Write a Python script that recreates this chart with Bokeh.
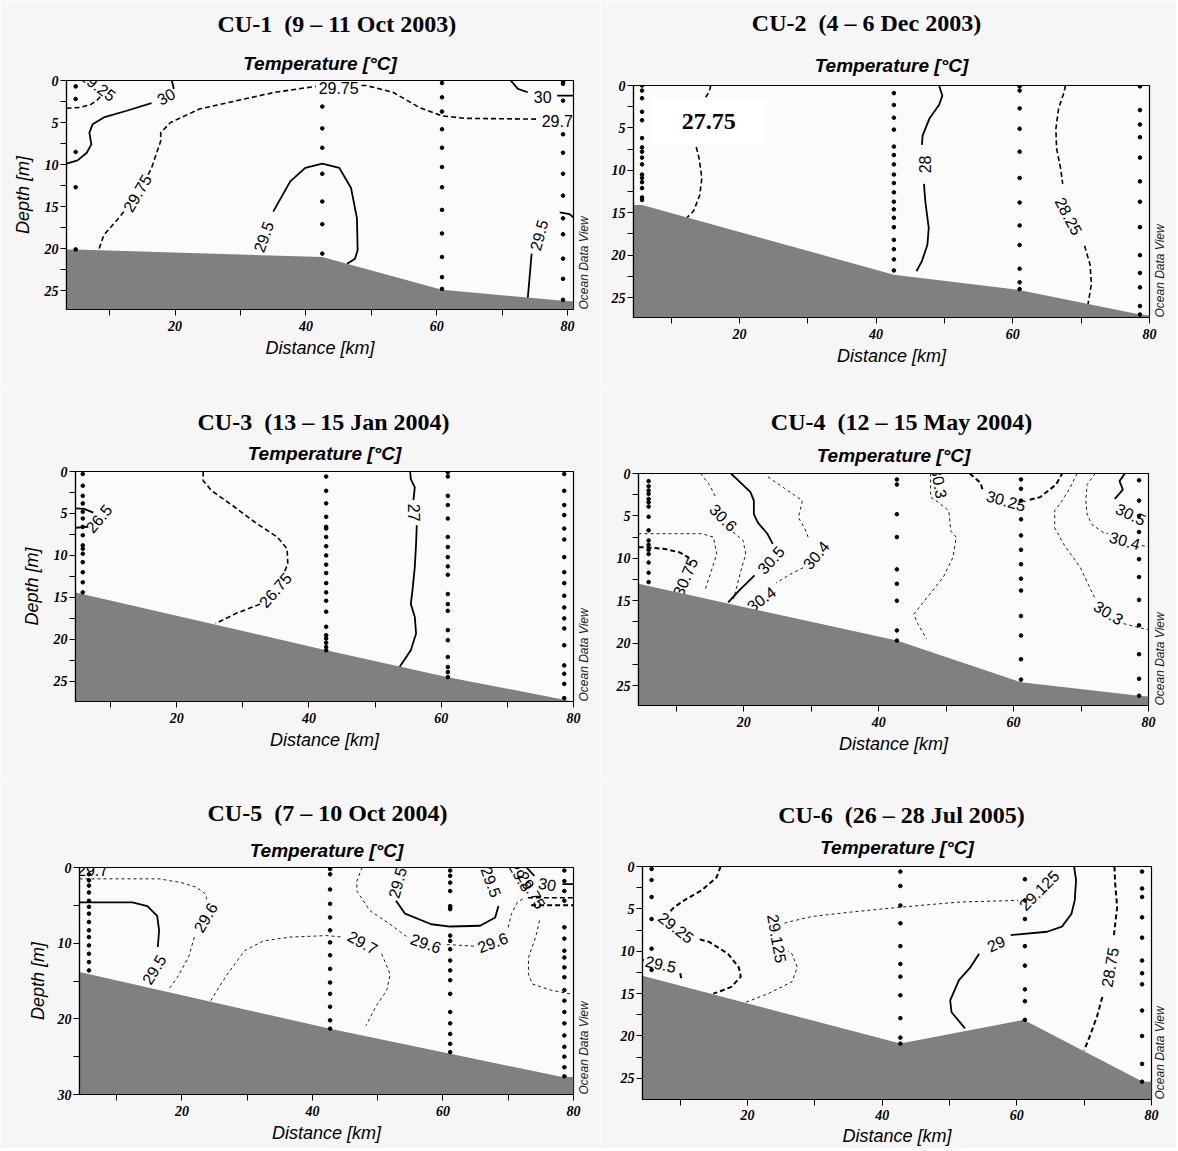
import math
from bokeh.plotting import figure
from bokeh.layouts import column, row
from bokeh.models import Range1d, FixedTicker, Title, LinearAxis, CustomJSTickFormatter
from bokeh.core.properties import value
from bokeh.embed import file_html
from bokeh.resources import INLINE

N = None  # break inside a contour polyline

# ======================= CU-1 =======================
CU1_title = "CU-1\u00a0 (9 – 11 Oct 2003)"
CU1_xlim = (3.4, 80.9)
CU1_ymax = 27.25
CU1_bottom_km = [3.4, 4.8, 42.5, 60.8, 79.3, 80.9]
CU1_bottom_depth = [20.1, 20.1, 21.0, 24.9, 26.2, 26.3]
CU1_station_km = [4.8, 42.5, 60.8, 79.3]
CU1_sample_depth = [
    [0.7, 2.2, 8.5, 12.7, 20.1],
    [3.1, 5.7, 8.0, 11.1, 14.4, 17.1, 20.6],
    [0.3, 2.0, 3.7, 5.8, 8.0, 10.3, 12.7, 15.4, 18.2, 21.0, 23.4, 24.8],
    [0.1, 0.4, 2.4, 6.4, 8.6, 11.1, 13.7, 16.4, 18.3, 21.2, 23.6, 26.1],
]
CU1_lines = [
    ("dash", [3.4, 5.5, 7.0, 8.0, 8.6], [3.3, 3.2, 2.9, 2.4, 1.9]),
    ("solid", [3.4, 5.1, 6.5, 7.2, 6.9, 7.4, 9.1, 12.6, 16.4, N, 19.8, 19.5],
              [9.9, 9.5, 8.6, 7.6, 6.2, 5.2, 4.4, 3.6, 2.7, N, 1.0, 0.0]),
    ("dash", [8.4, 9.1, 10.9, 12.3, N, 15.9, 16.4, 17.8, 17.8, 19.3, 23.7, 30.6, 35.3, 41.5, N,
              48.5, 49.2, 53.3, 57.3, 60.8, 64.3, 75.5],
             [20.0, 18.4, 16.8, 15.5, N, 11.2, 10.4, 7.2, 6.2, 5.0, 3.4, 2.2, 1.4, 0.7, N,
              0.6, 0.6, 1.4, 3.2, 4.2, 4.5, 4.6]),
    ("solid", [35.0, 37.6, 39.9, 42.5, 45.1, 46.9, 47.8, 47.9, 47.5, 46.3],
              [15.6, 12.0, 10.4, 9.9, 10.4, 12.8, 16.4, 20.2, 21.2, 21.8]),
    ("solid", [71.3, 72.4, 73.9, N, 78.4, 80.9], [0.0, 1.0, 1.4, N, 1.8, 1.8]),
    ("solid", [73.9, 74.5, N, 78.8, 80.3, 80.9], [26.0, 20.6, N, 15.7, 15.9, 16.3]),
]
CU1_labels = [
    ("29.25", 8.2, 0.6, -37), ("30", 18.6, 1.9, 30), ("29.75", 14.2, 13.4, 60),
    ("29.75", 45.0, 0.9, 0), ("29.75", 79.1, 4.8, 0), ("29.5", 33.5, 18.6, 70),
    ("30", 76.2, 2.0, 0), ("29.5", 75.6, 18.4, 75),
]

# ======================= CU-2 =======================
CU2_title = "CU-2\u00a0 (4 – 6 Dec 2003)"
CU2_xlim = (4.5, 80.0)
CU2_ymax = 27.35
CU2_bottom_km = [4.5, 5.75, 42.6, 60.9, 78.6, 80.0]
CU2_bottom_depth = [14.1, 14.1, 22.3, 24.1, 27.0, 27.1]
CU2_station_km = [5.75, 42.6, 61.0, 78.6]
CU2_sample_depth = [
    [0.0, 0.6, 1.5, 3.1, 4.1, 6.2, 7.3, 7.8, 8.5, 9.3, 10.5, 10.9, 11.4, 12.1, 13.2, 13.5],
    [0.9, 2.3, 3.8, 5.2, 7.2, 8.2, 9.3, 10.5, 11.5, 12.6, 13.7, 14.6, 15.6, 16.7, 18.2, 19.3, 20.5, 21.8],
    [0.1, 0.6, 2.7, 5.1, 7.8, 10.9, 13.8, 16.5, 18.8, 21.6, 23.2, 24.0],
    [0.1, 2.9, 4.6, 6.1, 8.5, 11.3, 13.7, 16.7, 20.0, 22.1, 23.8, 26.0, 27.0],
]
CU2_lines = [
    ("dash", [15.8, 15.6, 14.9, 14.5, 13.6, 14.1, 14.5, 14.2, 13.3, 12.3],
             [0.0, 0.7, 1.6, 3.0, 7.0, 8.6, 10.9, 12.9, 14.8, 15.6]),
    ("solid", [49.2, 49.7, 49.2, 47.8, 46.8, 46.7, N, 47.0, 47.2, 47.7, 47.5, 46.7, 45.9],
              [0.0, 1.2, 2.3, 3.9, 5.9, 7.0, N, 11.6, 13.7, 16.8, 18.8, 20.7, 21.9]),
    ("dash", [67.7, 67.5, 66.7, 66.3, 66.4, 67.0, 67.3, N, 70.5, 71.3, 71.5, 71.0],
             [0.0, 0.8, 2.7, 5.1, 7.4, 9.8, 11.6, N, 18.9, 21.1, 23.4, 25.8]),
]
CU2_labels = [("28", 47.1, 9.3, 90), ("28.25", 68.2, 15.4, -62)]
CU2_box_km = [7.2, 23.8]
CU2_box_depth = [1.6, 7.0]
CU2_box_text = "27.75"

# ======================= CU-3 =======================
CU3_title = "CU-3\u00a0 (13 – 15 Jan 2004)"
CU3_xlim = (4.7, 80.0)
CU3_ymax = 27.4
CU3_bottom_km = [4.7, 42.6, 61.0, 78.6, 80.0]
CU3_bottom_depth = [14.4, 21.3, 24.5, 27.2, 27.4]
CU3_station_km = [5.8, 42.6, 61.0, 78.6]
CU3_sample_depth = [
    [0.3, 1.7, 2.9, 3.8, 4.8, 5.6, 6.6, 7.6, 8.8, 9.2, 9.8, 10.8, 12.0, 13.2, 14.4],
    [0.6, 2.3, 3.8, 5.4, 6.6, 6.8, 7.8, 8.9, 10.0, 11.1, 12.1, 13.3, 14.4, 15.4, 16.7, 18.5,
     19.5, 19.9, 20.4, 20.9, 21.3],
    [0.1, 0.6, 2.9, 4.0, 5.6, 7.8, 9.0, 10.2, 11.3, 12.3, 14.6, 15.8, 16.6, 18.9, 20.1, 22.1,
     23.3, 23.9, 24.5],
    [0.3, 2.3, 4.0, 5.2, 6.8, 8.1, 10.2, 12.0, 13.3, 14.8, 16.2, 17.5, 18.7, 20.7, 23.1, 24.1,
     25.3, 27.0],
]
CU3_lines = [
    ("solid", [4.7, 6.0, 7.4, N, 6.5, 4.7], [4.4, 4.45, 4.9, N, 6.6, 6.7]),
    ("dash", [24.0, 24.0, 25.3, 28.7, 32.1, 35.2, 36.7, 36.8, 36.2, N, 32.6, 29.0, 25.9],
             [0.0, 1.1, 2.3, 4.2, 6.2, 7.8, 9.2, 11.0, 12.1, N, 15.8, 16.9, 18.1]),
    ("solid", [55.3, 55.4, 56.0, 55.8, N, 56.3, 56.2, 56.0, 55.7, 55.4, 56.0, 56.2, 55.4, 53.7],
              [0.0, 0.9, 1.9, 3.4, N, 6.4, 8.6, 11.4, 13.8, 15.8, 17.3, 19.3, 21.3, 23.3]),
]
CU3_labels = [("26.5", 8.2, 5.6, 50), ("26.75", 34.9, 14.1, 49), ("27", 55.9, 4.9, -90)]

# ======================= CU-4 =======================
CU4_title = "CU-4\u00a0 (12 – 15 May 2004)"
CU4_xlim = (4.4, 80.0)
CU4_ymax = 27.35
CU4_bottom_km = [4.4, 42.7, 61.1, 78.6, 80.0]
CU4_bottom_depth = [13.0, 19.7, 24.6, 26.2, 26.3]
CU4_station_km = [5.9, 42.7, 61.1, 78.6]
CU4_sample_depth = [
    [0.9, 1.5, 2.0, 2.4, 3.0, 3.4, 3.9, 5.1, 6.7, 7.9, 8.4, 9.0, 9.5, 10.5, 11.7, 12.8],
    [0.7, 1.3, 4.8, 7.5, 11.3, 13.0, 15.0, 18.5, 19.7],
    [0.7, 1.8, 3.2, 5.4, 7.3, 9.0, 10.7, 12.4, 13.8, 16.8, 19.1, 21.9, 24.3],
    [0.8, 3.2, 5.0, 6.9, 10.1, 12.2, 14.9, 17.9, 21.3, 24.2, 26.2],
]
CU4_lines = [
    ("bdash", [4.4, 5.6, 8.3, 10.5, 11.8, 12.1], [8.7, 8.7, 8.9, 9.3, 9.9, 10.6]),
    ("thin", [4.4, 13.8, 15.5, 16.0, 14.9, 14.2], [7.1, 7.1, 7.5, 9.5, 12.2, 13.9]),
    ("thin", [13.6, 14.9, 15.9, N, 18.4, 19.9, 20.3, 19.6, 18.5], [0.0, 1.3, 2.9, N, 6.9, 7.9, 9.5, 11.4, 14.8]),
    ("solid", [18.1, 19.3, 21.0, 21.5, 21.5, 22.1, 23.5, 24.3, N, 21.6, 19.3, 17.7],
              [0.0, 0.9, 2.2, 3.2, 4.8, 5.8, 7.1, 8.3, N, 12.0, 13.8, 15.2]),
    ("thin", [23.6, 26.5, 28.7, 28.1, 29.0, 29.6, N, 28.8, 27.3, 24.8],
             [0.4, 2.0, 3.2, 5.2, 6.4, 7.6, N, 11.1, 11.7, 12.9]),
    ("thin", [47.7, 47.7, 48.5, 50.4, 50.7, 51.5, 51.0, 49.6, 46.8, 45.2, 45.8, 47.1],
             [0.0, 2.8, 3.2, 4.4, 6.8, 7.5, 9.9, 12.2, 15.0, 16.6, 17.7, 19.5]),
    ("bdash", [53.5, 55.1, 55.4, N, 62.4, 63.9, 66.3, 67.2], [0.0, 1.1, 1.9, N, 3.1, 2.8, 1.3, 0.0]),
    ("thin", [69.4, 68.3, 67.2, 66.1, 66.1, 67.4, 69.9, 71.5, 72.0, N, 76.3, 79.3, 80.0],
             [0.0, 1.8, 3.2, 4.4, 6.4, 8.3, 11.1, 13.8, 14.6, N, 17.7, 18.3, 18.4]),
    ("thin", [72.1, 70.9, 70.7, 70.9, 71.6, 73.2, 74.0, N, 79.0, 80.0],
             [0.0, 1.3, 3.2, 4.8, 6.0, 6.9, 7.1, N, 8.5, 8.6]),
    ("solid", [76.5, 75.7, 76.2, 75.0], [0.0, 0.9, 1.9, 3.0]),
]
CU4_labels = [
    ("30.75", 11.3, 12.2, 67), ("30.6", 17.0, 5.2, -45), ("30.5", 24.0, 10.2, 48),
    ("30.4", 30.7, 9.6, 50), ("30.4", 22.6, 14.8, 36), ("30.3", 49.0, 1.1, -80),
    ("30.25", 58.9, 3.2, -16), ("30.3", 74.1, 16.4, -32), ("30.4", 76.5, 7.9, -15),
    ("30.5", 77.4, 4.8, -26),
]

# ======================= CU-5 =======================
CU5_title = "CU-5\u00a0 (7 – 10 Oct 2004)"
CU5_xlim = (4.3, 80.0)
CU5_ymax = 30.0
CU5_bottom_km = [4.3, 42.7, 61.1, 78.3, 80.0]
CU5_bottom_depth = [13.8, 21.3, 24.6, 27.7, 27.7]
CU5_station_km = [5.75, 42.7, 61.1, 78.6]
CU5_sample_depth = [
    [0.9, 1.7, 2.4, 3.3, 4.4, 5.2, 6.1, 7.2, 8.3, 9.2, 10.3, 11.4, 12.5, 13.6],
    [0.2, 0.9, 2.9, 4.8, 6.6, 8.3, 9.9, 11.6, 13.4, 15.2, 16.7, 18.4, 20.2, 21.3],
    [0.4, 1.1, 2.0, 3.1, 5.1, 5.3, 5.5, 9.0, 9.7, 10.8, 12.3, 13.6, 14.9, 16.7, 19.1, 20.6,
     22.0, 23.3, 24.4],
    [0.4, 1.8, 3.1, 4.4, 7.9, 9.4, 11.0, 11.9, 13.2, 14.5, 16.2, 17.6, 19.1, 20.6, 22.2, 23.7,
     25.0, 26.4, 27.6],
]
CU5_lines = [
    ("thin", [4.3, 9.6, 16.5, 19.9, 22.2, 23.6, 23.8, N, 21.9, 21.0, 19.3, 17.9],
             [1.5, 1.5, 1.5, 2.0, 2.6, 3.5, 4.2, N, 9.2, 11.9, 14.5, 16.2]),
    ("solid", [4.3, 12.4, 14.7, 16.2, 16.5, 16.3], [4.6, 4.6, 5.1, 6.4, 8.3, 10.5]),
    ("thin", [24.4, 26.8, 29.6, 32.5, 36.5, 42.2, 44.6, N, 50.6, 51.9, 51.4, 49.7, 48.2],
             [17.6, 14.3, 11.0, 9.7, 9.2, 9.0, 9.2, N, 11.4, 14.1, 16.2, 18.4, 20.9]),
    ("thin", [47.6, 46.8, 46.8, 48.8, 51.9, 53.9, 54.4, N, 60.6, 61.1, 64.8, N, 70.0, 70.5, 71.4, 72.5],
             [0.0, 1.8, 3.1, 5.7, 7.5, 8.8, 9.1, N, 10.2, 10.2, 10.4, N, 7.9, 6.1, 4.6, 4.0]),
    ("thin", [74.8, 74.2, 73.1, 73.1, 73.7, 76.5, 80.0], [7.0, 9.2, 11.9, 14.1, 15.4, 16.2, 16.8]),
    ("solid", [52.8, 54.2, 58.2, 61.1, 65.7, 68.0, 68.5], [4.4, 6.1, 7.5, 7.8, 7.7, 6.6, 5.1]),
    ("solid", [72.8, 74.0, N, 78.3, 80.0], [0.0, 1.1, N, 2.2, 2.2]),
    ("dash", [73.0, 80.0], [4.0, 4.0]),
    ("bdash", [73.5, 80.0], [5.0, 5.0]),
]
CU5_labels = [
    ("29.7", 6.3, 0.3, 0), ("29.6", 23.6, 6.6, 60), ("29.5", 15.7, 13.5, 59),
    ("29.7", 47.7, 9.9, -29), ("29.6", 57.4, 10.0, -19), ("29.6", 67.6, 9.9, 21),
    ("29.5", 53.0, 2.0, 75), ("29.5", 67.4, 1.9, -70), ("29.8", 71.9, 1.2, -60),
    ("29.75", 73.6, 3.0, -60), ("30", 76.0, 2.2, -10),
]

# ======================= CU-6 =======================
CU6_title = "CU-6\u00a0 (26 – 28 Jul 2005)"
CU6_xlim = (4.4, 80.0)
CU6_ymax = 27.5
CU6_bottom_km = [4.4, 42.7, 61.0, 78.7, 80.0]
CU6_bottom_depth = [12.9, 20.9, 18.1, 25.4, 25.4]
CU6_station_km = [5.75, 42.7, 61.2, 78.6]
CU6_sample_depth = [
    [0.3, 1.6, 3.6, 6.2, 9.7, 12.2],
    [0.6, 2.3, 4.6, 6.7, 9.4, 11.5, 13.0, 15.2, 17.9, 20.2, 20.9],
    [1.5, 4.0, 6.2, 9.4, 11.7, 14.5, 15.9, 18.1],
    [0.6, 2.6, 3.6, 6.0, 8.4, 11.1, 12.6, 13.9, 17.0, 20.0, 23.3, 25.4],
]
CU6_lines = [
    ("bdash", [16.0, 15.4, 13.2, 11.0, 9.1, 8.3, N, 12.9, 14.3, 17.1, 18.7, 19.0, 17.6, 15.7, 14.9],
              [0.0, 1.3, 2.8, 3.8, 4.8, 5.5, N, 8.6, 8.9, 10.3, 11.9, 13.0, 14.2, 14.8, 15.0]),
    ("bdash", [4.4, 4.6, N, 10.0, 10.2], [11.0, 11.1, N, 12.6, 13.4]),
    ("thin", [19.8, 23.1, 26.6, 27.4, 26.6, 26.0, N, 25.5, 25.8, 29.6, 35.1, 42.7, 51.4, 60.2],
             [16.0, 15.0, 13.6, 11.9, 10.3, 10.0, N, 6.7, 6.6, 5.9, 5.4, 4.8, 4.2, 4.0]),
    ("solid", [68.5, 68.8, 68.6, 68.1, 66.7, 64.5, 59.1, N, 54.4, 53.1, 51.4, 50.1, 50.3, 52.3],
              [0.0, 1.6, 4.0, 5.6, 7.1, 7.7, 8.1, N, 10.3, 11.9, 13.4, 15.8, 17.2, 19.1]),
    ("bdash", [74.5, 74.6, 74.9, 74.6, 74.4, N, 72.7, 71.9, 70.8, 70.0],
              [0.0, 2.0, 4.8, 6.8, 8.3, N, 15.4, 17.7, 20.1, 21.7]),
]
CU6_labels = [
    ("29.25", 9.4, 7.2, -38), ("29.5", 7.1, 11.5, -12), ("29.125", 24.4, 8.5, -80),
    ("29.125", 63.3, 2.8, 45), ("29", 56.9, 9.1, 25), ("28.75", 73.8, 11.9, 80),
]

YTICKS_27 = ([0, 5, 10, 15, 20, 25], [2.5, 7.5, 12.5, 17.5, 22.5])
YTICKS_30 = ([0, 10, 20, 30], [5, 15, 25])
XTICKS = ([20, 40, 60, 80], [10, 30, 50, 70])

STYLES = {
    "solid": dict(line_width=1.8, line_dash="solid"),
    "dash": dict(line_width=1.6, line_dash="5 3"),
    "bdash": dict(line_width=2.0, line_dash="5 3"),
    "thin": dict(line_width=0.9, line_dash="3 3"),
}

SERIF = "Liberation Serif"
SANS = "Liberation Sans"

# approximate advance widths (em) of the bold serif face, for placing titles
_W = {" ": .25, "\u00a0": .25, "(": .333, ")": .333, "-": .333, "–": .5, "C": .722, "U": .722,
      "O": .778, "D": .722, "J": .5, "M": .944, "a": .5, "c": .444, "e": .444, "l": .278,
      "n": .556, "t": .333, "u": .556, "y": .5}

H_TEMP = 21.2   # measured title box heights (px)
H_HEAD = 23.6


def text_width(s, size):
    return sum(_W.get(ch, .5) for ch in s) * size


def nan(v):
    return [float("nan") if a is None else a for a in v]


def build(d):
    cx0, cy0, cx1, cy1 = d["canvas"]
    fl, ft, fr, fb = d["frame"]
    x0, x1 = d["xlim"]
    p = figure(width=cx1 - cx0, height=cy1 - cy0, title=None,
               x_range=Range1d(x0, x1), y_range=Range1d(d["ymax"], 0),
               min_border_left=fl - cx0, min_border_right=cx1 - fr,
               min_border_top=ft - cy0, min_border_bottom=cy1 - fb,
               output_backend="svg", toolbar_location=None)
    p.grid.visible = False
    p.background_fill_color = "#fbfbfb"
    p.border_fill_color = "#f6f6f6"
    p.outline_line_color = "black"
    p.outline_line_width = 1.2

    p.xaxis.ticker = FixedTicker(ticks=XTICKS[0], minor_ticks=XTICKS[1])
    p.yaxis.ticker = FixedTicker(ticks=d["yticks"][0], minor_ticks=d["yticks"][1])
    for ax in (p.xaxis[0], p.yaxis[0]):
        ax.major_tick_in = 0
        ax.major_tick_out = 6
        ax.minor_tick_in = 0
        ax.minor_tick_out = 6
        ax.axis_line_color = "black"
        ax.axis_line_width = 1.2
        ax.major_tick_line_color = "black"
        ax.minor_tick_line_color = "black"
        ax.major_label_text_font = SERIF
        ax.major_label_text_font_style = "bold italic"
        ax.major_label_text_font_size = "14px"
        ax.major_label_text_color = "black"
        ax.axis_label_text_font = SANS
        ax.axis_label_text_font_style = "italic"
        ax.axis_label_text_font_size = "18px"
        ax.axis_label_text_color = "black"
    p.xaxis.axis_label = "Distance [km]"
    p.xaxis.major_label_standoff = d.get("xstand", (5, 4))[0]
    p.xaxis.axis_label_standoff = d.get("xstand", (5, 4))[1]
    p.yaxis.major_label_standoff = 2
    if d["depth_label"]:
        p.yaxis.axis_label = "Depth [m]"
        p.yaxis.axis_label_standoff = d["ystand"]

    # "Ocean Data View" credit, written upward from the bottom right corner
    odv = LinearAxis(ticker=FixedTicker(ticks=[d["ymax"] - 1e-6]),
                     formatter=CustomJSTickFormatter(code="return 'Ocean Data View';"),
                     major_label_orientation=math.pi / 2,
                     major_tick_line_color=None, minor_tick_line_color=None,
                     axis_line_color=None, major_tick_in=0, major_tick_out=0,
                     major_label_standoff=d["odv_x"] - fr,
                     major_label_text_font=SANS, major_label_text_font_style="italic",
                     major_label_text_font_size="12px", major_label_text_color="#222222")
    p.add_layout(odv, "right")

    # titles (closest to the frame first)
    B = ft - cy0
    cT = d["temp_pos"][1]
    cC = d["title_pos"][1]
    s1 = max(0.0, 2 * (ft - 2 - H_TEMP / 2 - cT))
    T = 2 + H_TEMP + s1
    s2 = 2 * (ft - T - 2 - H_HEAD / 2 - cC)
    s2 = max(0.0, min(s2, B - 1 - T - 2 - H_HEAD))
    p.add_layout(Title(text="Temperature [°C]", align="center", vertical_align="top",
                       standoff=s1, text_font=SANS, text_font_style="bold italic",
                       text_font_size="19px", text_color="black"), "above")
    tw = text_width(d["title"], 24)
    p.add_layout(Title(text=d["title"], align="left", vertical_align="top",
                       offset=d["title_pos"][0] - tw / 2 - fl, standoff=s2,
                       text_font=SERIF, text_font_style="bold", text_font_size="24px",
                       text_color="black"), "above")

    # contour lines
    for style, xs, ys in d["lines"]:
        p.line(nan(xs), nan(ys), line_color="black", **STYLES[style])

    # optional white box with label
    if d.get("box") is not None:
        bx, by, btxt = d["box"]
        p.quad(left=[bx[0]], right=[bx[1]], top=[by[0]], bottom=[by[1]],
               fill_color="white", line_color=None)
        p.text(x=[(bx[0] + bx[1]) / 2], y=[(by[0] + by[1]) / 2], text=[btxt],
               text_align="center", text_baseline="middle",
               text_font=value(SERIF), text_font_style="bold", text_font_size="24px",
               text_color="black")

    # contour labels
    labs = d["labels"]
    p.text(x=[l[1] for l in labs], y=[l[2] for l in labs], text=[l[0] for l in labs],
           angle=[math.radians(l[3]) for l in labs],
           text_align="center", text_baseline="middle",
           text_font=value(SANS), text_font_size="16px", text_color="black")

    # bathymetry
    p.varea(x=d["bottom_km"], y1=d["bottom_depth"], y2=[d["ymax"] + 3] * len(d["bottom_km"]),
            fill_color="#808080")

    # station samples
    sx, sy = [], []
    for km, deps in zip(d["station_km"], d["samples"]):
        sx += [km] * len(deps)
        sy += deps
    p.scatter(sx, sy, size=3.6, color="black", marker="circle")
    return p


panels = [
    dict(title=CU1_title, xlim=CU1_xlim, ymax=CU1_ymax, yticks=YTICKS_27,
         bottom_km=CU1_bottom_km, bottom_depth=CU1_bottom_depth,
         station_km=CU1_station_km, samples=CU1_sample_depth,
         lines=CU1_lines, labels=CU1_labels,
         canvas=(0, 0, 600, 388), frame=(66, 79, 575, 309),
         title_pos=(337, 22), temp_pos=(318, 62), odv_x=585, depth_label=True, ystand=9),
    dict(title=CU2_title, xlim=CU2_xlim, ymax=CU2_ymax, yticks=YTICKS_27,
         bottom_km=CU2_bottom_km, bottom_depth=CU2_bottom_depth,
         station_km=CU2_station_km, samples=CU2_sample_depth,
         lines=CU2_lines, labels=CU2_labels, box=(CU2_box_km, CU2_box_depth, CU2_box_text),
         canvas=(600, 0, 1176, 388), frame=(633, 84, 1150, 317),
         title_pos=(866, 21), temp_pos=(892, 64), odv_x=1160, depth_label=False),
    dict(title=CU3_title, xlim=CU3_xlim, ymax=CU3_ymax, yticks=YTICKS_27,
         bottom_km=CU3_bottom_km, bottom_depth=CU3_bottom_depth,
         station_km=CU3_station_km, samples=CU3_sample_depth,
         lines=CU3_lines, labels=CU3_labels,
         canvas=(0, 388, 600, 780), frame=(75, 471, 582, 701),
         title_pos=(323, 422), temp_pos=(330, 453), odv_x=592, depth_label=True, ystand=9),
    dict(title=CU4_title, xlim=CU4_xlim, ymax=CU4_ymax, yticks=YTICKS_27,
         bottom_km=CU4_bottom_km, bottom_depth=CU4_bottom_depth,
         station_km=CU4_station_km, samples=CU4_sample_depth,
         lines=CU4_lines, labels=CU4_labels,
         canvas=(600, 388, 1176, 780), frame=(638, 473, 1154, 705),
         title_pos=(901, 422), temp_pos=(896, 455), odv_x=1165, depth_label=False),
    dict(title=CU5_title, xlim=CU5_xlim, ymax=CU5_ymax, yticks=YTICKS_30,
         bottom_km=CU5_bottom_km, bottom_depth=CU5_bottom_depth,
         station_km=CU5_station_km, samples=CU5_sample_depth,
         lines=CU5_lines, labels=CU5_labels,
         canvas=(0, 780, 600, 1148), frame=(79, 867, 585, 1094),
         title_pos=(327, 813), temp_pos=(333, 850), odv_x=595, depth_label=True, ystand=7),
    dict(title=CU6_title, xlim=CU6_xlim, ymax=CU6_ymax, yticks=YTICKS_27,
         bottom_km=CU6_bottom_km, bottom_depth=CU6_bottom_depth,
         station_km=CU6_station_km, samples=CU6_sample_depth,
         lines=CU6_lines, labels=CU6_labels,
         canvas=(600, 780, 1176, 1148), frame=(642, 866, 1161, 1099),
         title_pos=(901, 815), temp_pos=(901, 847), odv_x=1169, depth_label=False,
         xstand=(4, 3)),
]

figs = [build(d) for d in panels]
layout = column(row(column(figs[0]), column(figs[1])),
                row(column(figs[2]), column(figs[3])),
                row(column(figs[4]), column(figs[5])))

with open("out.html", "w") as f:
    f.write(file_html(layout, INLINE))
